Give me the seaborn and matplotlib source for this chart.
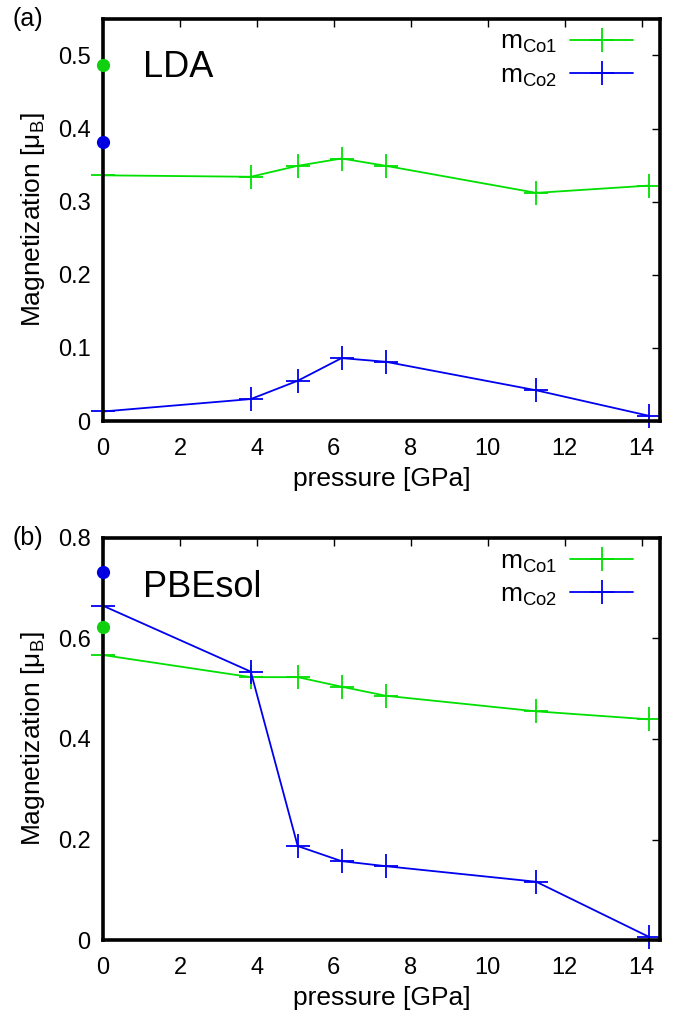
import matplotlib
matplotlib.use("Agg")
import matplotlib.pyplot as plt
import seaborn as sns
import pandas as pd

# ---------------- data ----------------
pressure = [0.0, 3.84, 5.06, 6.2, 7.35, 11.26, 14.2]

lda_co1 = [0.336, 0.334, 0.349, 0.359, 0.349, 0.312, 0.322]
lda_co2 = [0.013, 0.030, 0.055, 0.086, 0.081, 0.042, 0.007]
lda_exp_co1 = 0.487
lda_exp_co2 = 0.381

pbe_co1 = [0.567, 0.523, 0.523, 0.504, 0.486, 0.455, 0.439]
pbe_co2 = [0.665, 0.534, 0.187, 0.157, 0.147, 0.116, 0.006]
pbe_exp_co1 = 0.622
pbe_exp_co2 = 0.733

series_labels = [r"m$_{\mathrm{Co1}}$", r"m$_{\mathrm{Co2}}$"]
panel_labels = ["(a)", "(b)"]
method_labels = ["LDA", "PBEsol"]
xticks = [0, 2, 4, 6, 8, 10, 12, 14]
yticks_a = [0, 0.1, 0.2, 0.3, 0.4, 0.5]
yticks_b = [0, 0.2, 0.4, 0.6, 0.8]
xlabel = "pressure [GPa]"
ylabel = r"Magnetization [$\mathrm{\mu_B}$]"

# ---------------- style ----------------
sns.set_theme(style="white")
plt.rcParams["font.family"] = ["Liberation Sans", "DejaVu Sans"]
plt.rcParams["mathtext.fontset"] = "custom"
plt.rcParams["mathtext.rm"] = "Liberation Sans"
plt.rcParams["mathtext.it"] = "Liberation Sans:italic"
plt.rcParams["mathtext.default"] = "regular"
for k in ["text.color", "axes.labelcolor", "xtick.color", "ytick.color"]:
    plt.rcParams[k] = "black"

GREEN = "#00e000"
BLUE = "#0000f0"
DOT_GREEN = "#10d010"
DOT_BLUE = "#0000e0"
colors = [GREEN, BLUE]

fig = plt.figure(figsize=(6.78, 10.13), dpi=100)
ax_a = fig.add_axes([0.152, 0.5844, 0.821, 0.397])
ax_b = fig.add_axes([0.152, 0.072, 0.821, 0.397])

panels = [
    (ax_a, lda_co1, lda_co2, lda_exp_co1, lda_exp_co2, 0.55, yticks_a, 0.880),
    (ax_b, pbe_co1, pbe_co2, pbe_exp_co1, pbe_exp_co2, 0.8, yticks_b, 0.877),
]

for i, (ax, c1, c2, e1, e2, ymax, yt, ty) in enumerate(panels):
    df = pd.DataFrame({
        "pressure": pressure * 2,
        "m": c1 + c2,
        "series": [series_labels[0]] * len(pressure) + [series_labels[1]] * len(pressure),
    })
    sns.lineplot(data=df, x="pressure", y="m", hue="series",
                 palette={series_labels[0]: GREEN, series_labels[1]: BLUE},
                 marker="+", markersize=17, markeredgewidth=1.3, linewidth=1.3,
                 ax=ax, legend=True)
    for ln in ax.get_lines():
        ln.set_markeredgecolor(ln.get_color())
        ln.set_markerfacecolor(ln.get_color())
        ln.set_clip_on(False)

    # values at ambient pressure
    ax.plot([0], [e1], "o", color=DOT_GREEN, markersize=8.5, clip_on=False, zorder=10)
    ax.plot([0], [e2], "o", color=DOT_BLUE, markersize=8.5, clip_on=False, zorder=10)

    ax.set_xlim(0, 14.47)
    ax.set_ylim(0, ymax)
    ax.set_xticks(xticks)
    ax.set_xticklabels([str(t) for t in xticks])
    ax.set_yticks(yt)
    ax.set_yticklabels(["0" if t == 0 else f"{t:g}" for t in yt])
    ax.tick_params(direction="in", length=6, width=1, top=True, right=True,
                   labelsize=17, pad=9)
    ax.tick_params(axis="x", pad=12)
    for s in ax.spines.values():
        s.set_linewidth(2.6)
        s.set_color("black")
        s.set_zorder(5)
    ax.set_xlabel(xlabel, fontsize=19, labelpad=5)
    ax.set_ylabel(ylabel, fontsize=19, labelpad=8)

    leg = ax.legend(loc="upper right", bbox_to_anchor=(0.986, 1.0175),
                    frameon=False, fontsize=19,
                    markerfirst=False, handlelength=2.4, handletextpad=0.5,
                    borderaxespad=0.3, labelspacing=0.3)
    for h, c in zip(leg.legend_handles, colors):
        h.set_color(c)
        h.set_markersize(17)
        h.set_markeredgewidth(1.3)
        h.set_markeredgecolor(c)
        h.set_linewidth(1.3)

    ax.text(0.072, ty, method_labels[i], transform=ax.transAxes,
            fontsize=26, ha="left", va="center")
    ax.text(-0.162, 1.0, panel_labels[i], transform=ax.transAxes,
            fontsize=18, ha="left", va="center")

fig.savefig("out.png", dpi=100)
